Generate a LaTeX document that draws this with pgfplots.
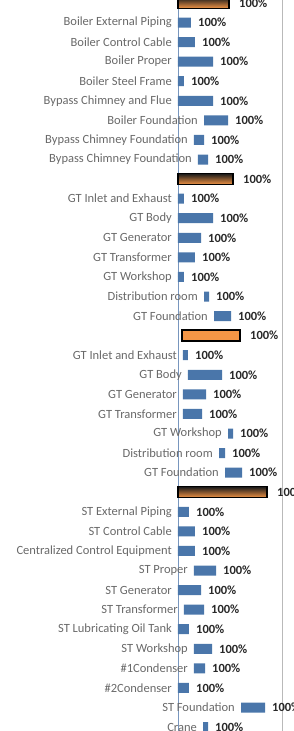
\documentclass[border=0pt]{standalone}
\usepackage{pgfplots}
\pgfplotsset{compat=1.18}
\usepackage{fontspec}
\setmainfont{Carlito}
\definecolor{barblue}{RGB}{74,118,170}
\definecolor{sumorange}{RGB}{245,150,70}
\definecolor{labgray}{RGB}{105,105,105}
\definecolor{valtext}{RGB}{40,40,40}
\definecolor{axisblue}{RGB}{120,150,190}

\pgfplotsset{
  gantt/.style={
    scale only axis, width=104pt, height=731pt,
    xmin=0, xmax=104, ymin=0.85, ymax=38.2, y dir=reverse,
    clip=false,
    axis line style={draw=none},
    ytick=\empty, xticklabels={}, major tick length=0pt,
  },
  labelplot/.style={only marks, mark=*, mark size=0pt, draw=none, fill=none,
    point meta=explicit symbolic, nodes near coords},
  sumbar/.style={draw=black, line width=1.5pt, top color=black!90,
    bottom color=sumorange, bar shift=0pt},
}

\begin{document}
\begin{tikzpicture}
\begin{axis}[gantt, xbar stacked, bar width=10pt,
    xtick={0}, xmajorgrids, grid style={axisblue, line width=0.8pt},
    extra x ticks={104}, extra x tick labels={},
    extra x tick style={grid style={gray!55, line width=0.8pt}}]
  \coordinate (bl) at (rel axis cs:0,0);
  \coordinate (tr) at (rel axis cs:1,1);
  % start offsets (invisible)
  \addplot[draw=none, fill=none] coordinates {
    (0,2) (0,3) (0,4) (0,5) (0,6) (26,7) (16,8) (20,9)
    (0,11) (0,12) (0,13) (0,14) (0,15) (26,16) (36,17)
    (5,19) (10,20) (5,21) (5,22) (50,23) (41,24) (47,25)
    (0,27) (0,28) (0,29) (16,30) (0,31) (6,32) (0,33)
    (16,34) (16,35) (0,36) (63,37) (25,38)
  };
  % durations
  \addplot[draw=none, fill=barblue] coordinates {
    (13,2) (17,3) (35,4) (6,5) (35,6) (24,7) (10,8) (10,9)
    (6,11) (35,12) (23,13) (17,14) (6,15) (5,16) (17,17)
    (5,19) (34,20) (23,21) (19,22) (5,23) (6,24) (17,25)
    (11,27) (17,28) (17,29) (22,30) (23,31) (20,32) (11,33)
    (18,34) (11,35) (11,36) (24,37) (5,38)
  };
\end{axis}
% summary bars of groups 1, 2 and 4 (dark top, orange bottom)
\begin{axis}[gantt, xbar, bar width=11pt, at={(bl)}, anchor=south west]
  \addplot[sumbar] coordinates {(51,1)};
  \addplot[sumbar] coordinates {(55,10)};
  \addplot[sumbar] coordinates {(89,26)};
\end{axis}
% summary bar of group 3 (orange, black border)
\begin{axis}[gantt, xbar stacked, bar width=11pt, at={(bl)}, anchor=south west]
  \addplot[draw=none, fill=none] coordinates {(4,18)};
  \addplot[draw=black, line width=1.5pt, fill=sumorange] coordinates {(58,18)};
\end{axis}
\begin{axis}[gantt, at={(bl)}, anchor=south west]
  % task names, right-aligned at the start of each bar
  \addplot[labelplot,
    every node near coord/.style={anchor=east, xshift=-6pt, text=labgray,
      font=\fontsize{12.5}{14}\selectfont, inner sep=0pt}]
  coordinates {
    (0,2) [Boiler External Piping]
    (0,3) [Boiler Control Cable]
    (0,4) [Boiler Proper]
    (0,5) [Boiler Steel Frame]
    (0,6) [Bypass Chimney and Flue]
    (26,7) [Boiler Foundation]
    (16,8) [Bypass Chimney Foundation]
    (20,9) [Bypass Chimney Foundation]
    (0,11) [GT Inlet and Exhaust]
    (0,12) [GT Body]
    (0,13) [GT Generator]
    (0,14) [GT Transformer]
    (0,15) [GT Workshop]
    (26,16) [Distribution room]
    (36,17) [GT Foundation]
    (5,19) [GT Inlet and Exhaust]
    (10,20) [GT Body]
    (5,21) [GT Generator]
    (5,22) [GT Transformer]
    (50,23) [GT Workshop]
    (41,24) [Distribution room]
    (47,25) [GT Foundation]
    (0,27) [ST External Piping]
    (0,28) [ST Control Cable]
    (0,29) [Centralized Control Equipment]
    (16,30) [ST Proper]
    (0,31) [ST Generator]
    (6,32) [ST Transformer]
    (0,33) [ST Lubricating Oil Tank]
    (16,34) [ST Workshop]
    (16,35) [\#1Condenser]
    (0,36) [\#2Condenser]
    (63,37) [ST Foundation]
    (25,38) [Crane]
  };
  % percentage labels after each task bar
  \addplot[labelplot,
    every node near coord/.style={anchor=west, xshift=7pt, text=valtext,
      font=\bfseries\fontsize{12.5}{14}\selectfont, inner sep=0pt}]
  coordinates {
    (13,2)[100\%] (17,3)[100\%] (35,4)[100\%] (6,5)[100\%] (35,6)[100\%]
    (50,7)[100\%] (26,8)[100\%] (30,9)[100\%]
    (6,11)[100\%] (35,12)[100\%] (23,13)[100\%] (17,14)[100\%] (6,15)[100\%]
    (31,16)[100\%] (53,17)[100\%]
    (10,19)[100\%] (44,20)[100\%] (28,21)[100\%] (24,22)[100\%] (55,23)[100\%]
    (47,24)[100\%] (64,25)[100\%]
    (11,27)[100\%] (17,28)[100\%] (17,29)[100\%] (38,30)[100\%] (23,31)[100\%]
    (26,32)[100\%] (11,33)[100\%] (34,34)[100\%] (27,35)[100\%] (11,36)[100\%]
    (87,37)[100\%] (30,38)[100\%]
  };
  % percentage labels after each summary bar
  \addplot[labelplot,
    every node near coord/.style={anchor=west, xshift=10pt, text=valtext,
      font=\bfseries\fontsize{12.5}{14}\selectfont, inner sep=0pt}]
  coordinates {
    (51,1)[100\%] (55,10)[100\%] (62,18)[100\%] (89,26)[100\%]
  };
\end{axis}
\pgfresetboundingbox
\path[use as bounding box] ([xshift=-178pt]bl) rectangle ([xshift=11pt]tr);
\end{tikzpicture}
\end{document}
